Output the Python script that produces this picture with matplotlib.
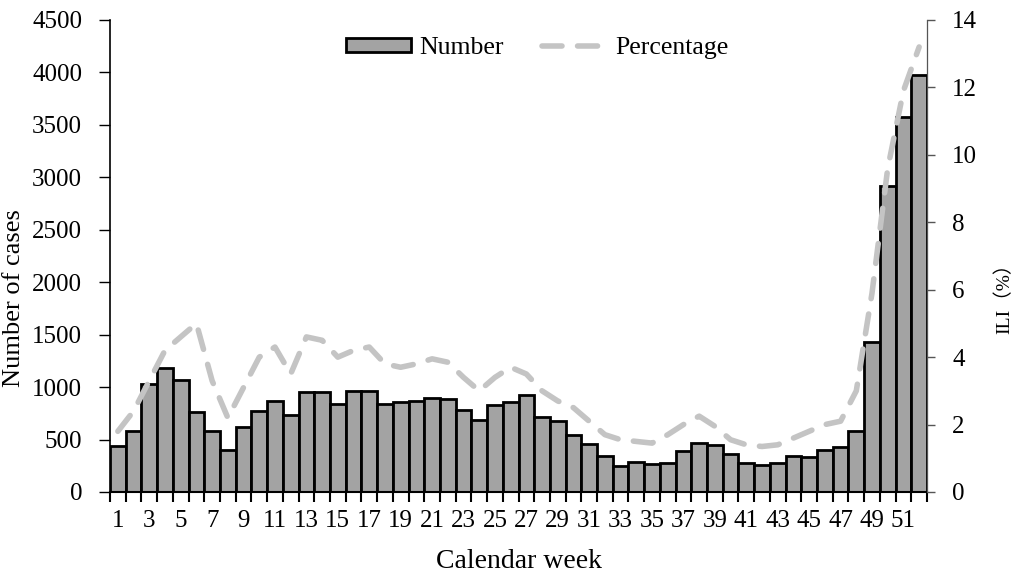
import numpy as np
import matplotlib.pyplot as plt
from matplotlib.ticker import MultipleLocator, FixedLocator

plt.rcParams['font.family'] = ['Liberation Serif', 'Noto Sans CJK SC']

weeks = np.arange(1, 53)
cases = [440, 580, 1030, 1180, 1070, 760, 580, 400, 615, 775,
         870, 735, 950, 950, 835, 965, 965, 835, 857, 866,
         895, 885, 780, 685, 830, 860, 925, 715, 675, 540,
         455, 347, 250, 286, 265, 275, 391, 471, 452, 360,
         277, 262, 275, 344, 332, 398, 425, 580, 1430, 2920,
         3572, 3980]
ili_pct = [1.8, 2.4, 3.3, 4.2, 4.6, 5.0, 3.3, 2.2, 3.1, 4.0,
           4.3, 3.5, 4.6, 4.5, 4.0, 4.2, 4.3, 3.8, 3.7, 3.8,
           3.95, 3.85, 3.4, 3.0, 3.4, 3.7, 3.5, 3.0, 2.7, 2.5,
           2.1, 1.7, 1.55, 1.5, 1.45, 1.7, 2.0, 2.25, 1.95, 1.55,
           1.4, 1.35, 1.4, 1.6, 1.8, 2.0, 2.1, 3.0, 5.9, 9.6,
           11.9, 13.2]

fig = plt.figure(figsize=(10.17, 5.77), dpi=100)
ax = fig.add_axes([110/1017, 1 - 492/577, 817/1017, 472/577])
ax2 = ax.twinx()

bars = ax.bar(weeks, cases, width=1.0, color='#a3a3a3', edgecolor='black',
              linewidth=2, label='Number', zorder=2)
line, = ax2.plot(weeks, ili_pct, color='#c4c4c4', lw=4, dashes=(3.6, 2.8),
                 solid_capstyle='round', dash_capstyle='round', label='Percentage')

ax.set_xlim(0.5, 52.5)
ax.set_ylim(0, 4500)
ax2.set_ylim(0, 14)
ax.yaxis.set_major_locator(MultipleLocator(500))
ax2.yaxis.set_major_locator(MultipleLocator(2))

ax.xaxis.set_major_locator(FixedLocator(weeks[::2]))
ax.set_xticklabels([str(w) for w in weeks[::2]])
ax.xaxis.set_minor_locator(FixedLocator(np.arange(0.5, 53, 1)))
ax.tick_params(axis='x', which='major', length=0, pad=13, labelsize=18)
ax.tick_params(axis='x', which='minor', length=7, width=1.5, direction='out')
ax.tick_params(axis='y', length=8, width=1, pad=12, labelsize=18)
ax2.tick_params(axis='y', length=6, width=1, pad=12, labelsize=18, color='#555555')

for a in (ax, ax2):
    a.spines['top'].set_visible(False)
ax.spines['left'].set_linewidth(1.2)
ax.spines['bottom'].set_linewidth(1.5)
ax2.spines['right'].set_color('#555555')
ax2.spines['right'].set_linewidth(0.8)
ax2.spines['left'].set_visible(False)
ax2.spines['bottom'].set_visible(False)

ax.set_xlabel('Calendar week', fontsize=20, labelpad=12)
ax.set_ylabel('Number of cases', fontsize=19)
ax.yaxis.set_label_coords(-0.104, 0.41)
ax2.set_ylabel('ILI（%）', fontsize=14)
ax2.yaxis.set_label_coords(1.083, 0.42)

ax.legend([bars, line], ['Number', 'Percentage'], loc='center',
          bbox_to_anchor=(0.523, 0.94), ncol=2, frameon=False, fontsize=18.5,
          handlelength=2.55, handleheight=0.45, handletextpad=0.3, columnspacing=1.5)

fig.savefig('out.png', dpi=100)
